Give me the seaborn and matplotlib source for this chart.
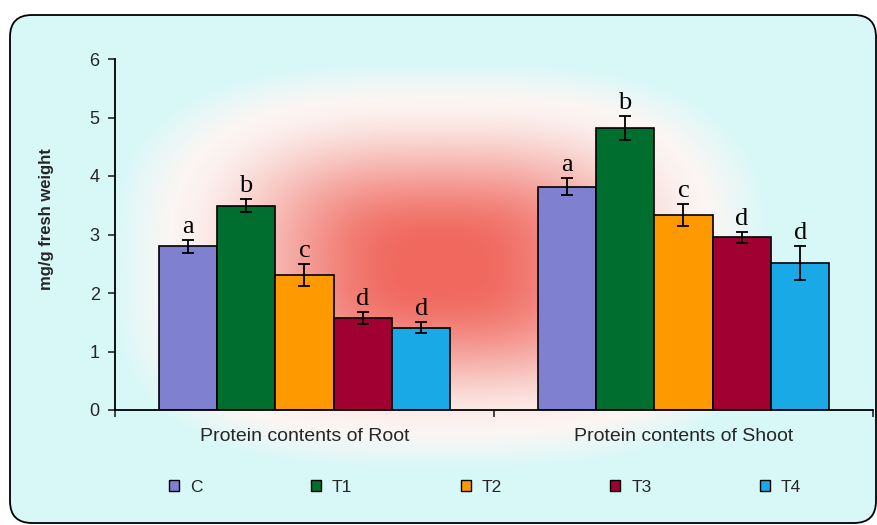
import numpy as np
import pandas as pd
import matplotlib
matplotlib.use("Agg")
import matplotlib.pyplot as plt
from matplotlib.patches import FancyBboxPatch, Patch
import seaborn as sns

groups = ["Protein contents of Root", "Protein contents of Shoot"]
treatments = ["C", "T1", "T2", "T3", "T4"]
root_means = [2.80, 3.49, 2.31, 1.57, 1.41]
root_errs = [0.11, 0.11, 0.19, 0.10, 0.10]
shoot_means = [3.82, 4.82, 3.33, 2.95, 2.52]
shoot_errs = [0.14, 0.20, 0.19, 0.10, 0.29]
root_letters = ["a", "b", "c", "d", "d"]
shoot_letters = ["a", "b", "c", "d", "d"]
colors = ["#8080d0", "#006e2e", "#ff9900", "#a00032", "#19a9e6"]

df = pd.DataFrame({
    "group": [groups[0]] * 5 + [groups[1]] * 5,
    "treatment": treatments * 2,
    "value": root_means + shoot_means,
    "err": root_errs + shoot_errs,
    "letter": root_letters + shoot_letters,
})

sns.set_style("ticks")
plt.rcParams["font.family"] = ["Liberation Sans", "DejaVu Sans"]

W, H = 878, 525
fig = plt.figure(figsize=(W / 100, H / 100), dpi=100)
fig.patch.set_facecolor("white")

# background: cyan panel with a soft red glow, inside a rounded frame
bg = fig.add_axes([0, 0, 1, 1], zorder=0)
bg.set_xlim(0, W)
bg.set_ylim(H, 0)
bg.axis("off")
box = dict(boxstyle="round,pad=0,rounding_size=22")
clip = FancyBboxPatch((10, 15), 866, 508, facecolor="none", edgecolor="none", **box)
bg.add_patch(clip)

yy, xx = np.mgrid[0:H, 0:W]
dx = np.abs(xx - 440) / 295
dy = np.abs(yy - 265) / 182
d = (dx ** 3 + dy ** 3) ** (1 / 3)
t = np.clip((0.95 - d) / 0.85, 0, 1)
red_amt = t * t * (3 - 2 * t)
inside = np.clip((1.12 - d) / 0.2, 0, 1)
cyan = np.array([216, 248, 248]) / 255
white = np.array([252, 246, 244]) / 255
red = np.array([240, 104, 94]) / 255
glow = white * (1 - red_amt[..., None]) + red * red_amt[..., None]
img = cyan * (1 - inside[..., None]) + glow * inside[..., None]
im = bg.imshow(img, extent=(0, W, H, 0), aspect="auto", zorder=1, interpolation="bilinear")
im.set_clip_path(clip)
bg.add_patch(FancyBboxPatch((10, 15), 866, 508, facecolor="none", edgecolor="black",
                            linewidth=1.3, zorder=2, **box))

# main chart
ax = fig.add_axes([115 / W, 1 - 410 / H, 758 / W, 351 / H], zorder=3)
ax.patch.set_alpha(0)
sns.barplot(data=df, x="group", y="value", hue="treatment", palette=colors,
            saturation=1, width=0.77, edgecolor="black", linewidth=1.2,
            errorbar=None, legend=False, ax=ax)

bars = sorted(ax.patches, key=lambda p: p.get_x())
for bar, (_, row) in zip(bars, df.iterrows()):
    xc = bar.get_x() + bar.get_width() / 2
    ax.errorbar(xc, row["value"], yerr=row["err"], color="black", capsize=4.5,
                elinewidth=1.3, capthick=1.3, fmt="none", zorder=4)
    ax.text(xc, row["value"] + row["err"] + 0.12, row["letter"], ha="center", va="baseline",
            fontsize=19, family=["Liberation Serif", "DejaVu Serif"], color="black")

ax.set_xlim(-0.5, 1.5)
ax.set_ylim(0, 6)
ax.set_yticks(range(0, 7))
ax.set_xticks([-0.5, 0.5, 1.5], minor=True)
ax.tick_params(axis="x", which="major", length=0, pad=13, labelsize=14)
ax.tick_params(axis="x", which="minor", length=5, width=1.2, direction="out")
ax.tick_params(axis="y", length=5, width=1.2, pad=6, labelsize=13)
ax.set_xlabel("")
ax.set_ylabel("mg/g fresh weight", fontsize=12, fontweight="bold")
ax.yaxis.set_label_coords((54 - 115) / 758, (410 - 219) / 351)
for s in ["left", "bottom"]:
    ax.spines[s].set_linewidth(1.3)
    ax.spines[s].set_color("black")
sns.despine(ax=ax)

handles = [Patch(facecolor=c, edgecolor="black", linewidth=1.0) for c in colors]
fig.legend(handles, treatments, loc="center left", bbox_to_anchor=(169 / W, 1 - 487 / H),
           ncol=5, frameon=False, fontsize=12.5, handlelength=0.58, handleheight=0.58,
           handletextpad=0.63, columnspacing=6.24, borderpad=0, borderaxespad=0)

fig.savefig("out.png", dpi=100)
